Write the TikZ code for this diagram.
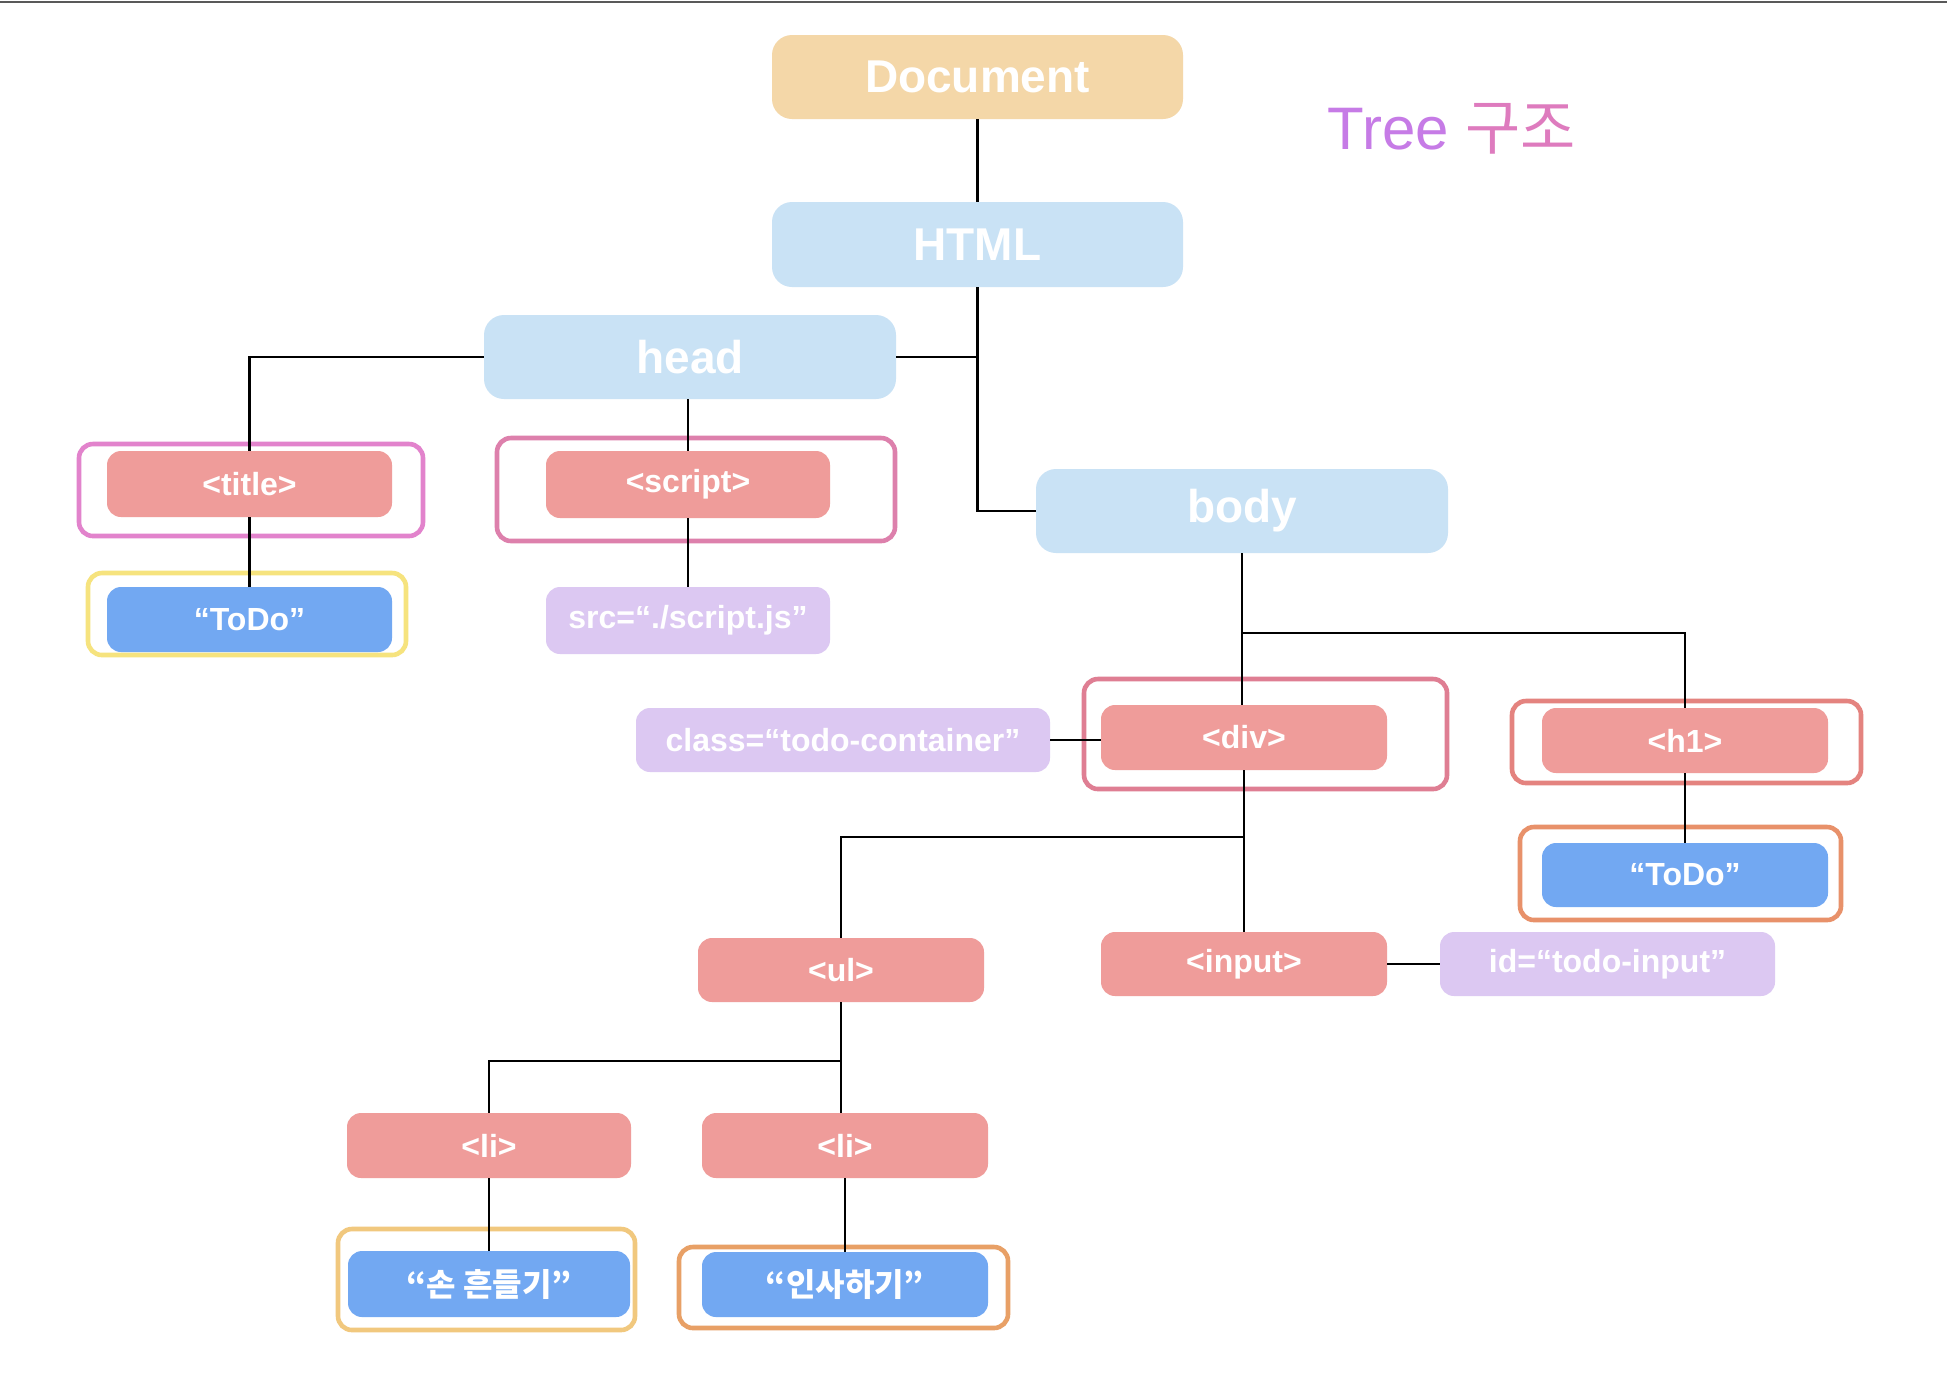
\documentclass[tikz,border=0pt]{standalone}
\usepackage{fontspec}
\setmainfont{Liberation Sans}
\newfontfamily\cjk{Noto Sans CJK KR}
\usetikzlibrary{calc}
\definecolor{docfill}{HTML}{F4D7A8}
\definecolor{lblue}{HTML}{C9E2F5}
\definecolor{pinkfill}{HTML}{EF9C9A}
\definecolor{bluefill}{HTML}{72A8F2}
\definecolor{purfill}{HTML}{DCC8F2}
\definecolor{titlebd}{HTML}{E283CC}
\definecolor{yelbd}{HTML}{F6E37E}
\definecolor{scriptbd}{HTML}{DD80AC}
\definecolor{divbd}{HTML}{DF7E93}
\definecolor{hbd}{HTML}{E4837F}
\definecolor{orbd}{HTML}{E8916A}
\definecolor{sonbd}{HTML}{F1C87E}
\definecolor{insabd}{HTML}{E8A066}
\definecolor{treeA}{HTML}{C67BE6}
\definecolor{treeB}{HTML}{DE7BBE}
\tikzset{
  sz/.style 2 args={minimum width=#1*0.5pt, minimum height=#2*0.5pt, inner sep=0pt},
  bignode/.style={rectangle, rounded corners=10pt, text=white, font=\fontsize{23pt}{23pt}\selectfont\bfseries},
  smallnode/.style={rectangle, rounded corners=7pt, text=white, font=\fontsize{16pt}{16pt}\selectfont\bfseries},
  tagnode/.style={smallnode, fill=pinkfill},
  textnode/.style={smallnode, fill=bluefill},
  attrnode/.style={smallnode, fill=purfill},
  hlbox/.style={rectangle, rounded corners=7pt, line width=2.3pt, draw=#1, fill=white, inner sep=0pt},
  conn/.style={line width=1.25pt, black},
}
\begin{document}
\begin{tikzpicture}[x=0.5pt, y=-0.5pt]
\useasboundingbox (0,0) rectangle (1947,1372);
\fill[white] (0,0) rectangle (1947,1372);
\draw[line width=1.2pt, black!65] (0,2) -- (1947,2);

% highlight boxes
\node[hlbox=titlebd, sz={344}{92}] (titlebox) at (251,490) {};
\node[hlbox=yelbd, sz={318}{82}] (todoAbox) at (247,614) {};
\node[hlbox=scriptbd, sz={398}{103}] (scriptbox) at (696,489.5) {};
\node[hlbox=divbd, sz={363}{110}] (divbox) at (1265.5,734) {};
\node[hlbox=hbd, sz={349}{82}] (h1box) at (1686.5,742) {};
\node[hlbox=orbd, sz={321}{93}] (todoBbox) at (1680.5,873.5) {};
\node[hlbox=sonbd, sz={297}{101}] (sonbox) at (486.5,1279.5) {};
\node[hlbox=insabd, sz={329}{81}] (insabox) at (843.5,1287.5) {};

% main nodes
\node[bignode, fill=docfill, sz={411}{84}] (doc) at (977.5,77) {Document};
\node[bignode, fill=lblue, sz={411}{85}] (html) at (977.5,244.5) {HTML};
\node[bignode, fill=lblue, sz={412}{84}] (head) at (690,357) {head};
\node[bignode, fill=lblue, sz={412}{84}] (body) at (1242,511) {body};

\node[tagnode, sz={285}{66}] (title) at (249.5,484) {<title>};
\node[textnode, sz={285}{65}] (todoA) at (249.5,619.5) {“ToDo”};
\node[tagnode, sz={284}{67}] (script) at (688,484.5) {<script>};
\node[attrnode, sz={284}{67}] (src) at (688,620.5) {src=“./script.js”};

\node[tagnode, sz={286}{65}] (div) at (1244,737.5) {<div>};
\node[attrnode, sz={414}{64}] (cls) at (843,740) {class=“todo-container”};
\node[tagnode, sz={286}{65}] (h1) at (1685,740.5) {<h1>};
\node[textnode, sz={286}{64}] (todoB) at (1685,875) {“ToDo”};
\node[tagnode, sz={286}{64}] (input) at (1244,964) {<input>};
\node[attrnode, sz={335}{64}] (idattr) at (1607.5,964) {id=“todo-input”};
\node[tagnode, sz={286}{64}] (ul) at (841,970) {<ul>};
\node[tagnode, sz={284}{65}] (li1) at (489,1145.5) {<li>};
\node[tagnode, sz={286}{65}] (li2) at (845,1145.5) {<li>};
\node[textnode, sz={282}{66}] (son) at (489,1284) {\cjk\bfseries “손 흔들기”};
\node[textnode, sz={286}{65}] (insa) at (845,1284.5) {\cjk\bfseries “인사하기”};

\node[anchor=center, inner sep=0pt] (treelabel) at (1452,129)
  {\fontsize{30pt}{30pt}\selectfont\textcolor{treeA}{Tree} \textcolor{treeB}{\cjk 구조}};

% connectors
\coordinate (bodyfork) at (1242,633);
\coordinate (divfork) at (1244,837);
\coordinate (ulfork) at (841,1061);
\draw[conn] (doc.south) -- (html.north);
\draw[conn] (html.south) |- (body.west);
\draw[conn] (head.east) -- (head.east -| html.south);
\draw[conn] (head.west) -| (title.north);
\draw[conn] (title.south) -- (todoA.north);
\draw[conn] (script.north |- head.south) -- (script.north);
\draw[conn] (script.south) -- (src.north);
\draw[conn] (body.south) -- (body.south |- div.north);
\draw[conn] (bodyfork) -| (h1.north);
\draw[conn] (h1.south) -- (todoB.north);
\draw[conn] (cls.east) -- (cls.east -| div.west);
\draw[conn] (div.south) -- (input.north);
\draw[conn] (divfork) -| (ul.north);
\draw[conn] (input.east) -- (idattr.west);
\draw[conn] (ul.south) -- (ul.south |- li2.north);
\draw[conn] (ulfork) -| (li1.north);
\draw[conn] (li1.south) -- (son.north);
\draw[conn] (li2.south) -- (insa.north);
\end{tikzpicture}
\end{document}
